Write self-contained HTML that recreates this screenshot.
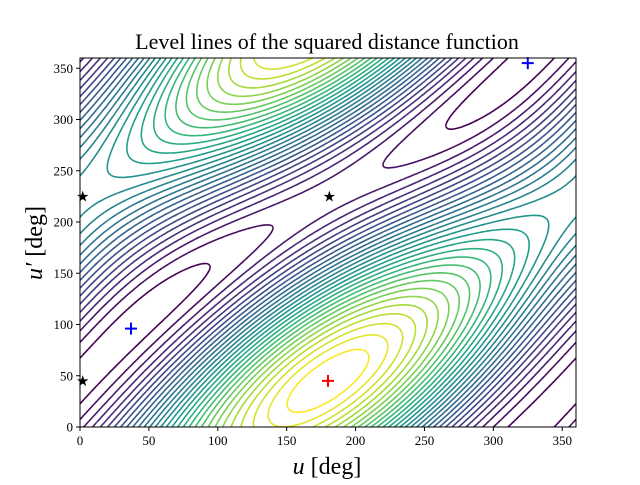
<!DOCTYPE html>
<html><head><meta charset="utf-8"><style>
body{margin:0;background:#fff}
svg text{font-family:"Liberation Serif",serif}
</style></head><body>
<svg id="chart" width="640" height="480" viewBox="0 0 640 480">
<text x="327" y="49" text-anchor="middle" font-size="22">Level lines of the squared distance function</text>
<g id="plot"></g>
<g id="axes"></g>
<text x="327" y="474" text-anchor="middle" font-size="24"><tspan font-style="italic">u</tspan> [deg]</text>
<text transform="translate(42,243) rotate(-90)" text-anchor="middle" font-size="24"><tspan font-style="italic">u′</tspan> [deg]</text>
</svg>
<script>
const xTicks=[0,50,100,150,200,250,300,350];
const yTicks=[0,50,100,150,200,250,300,350];
const maxPoint=[[180,45]];
const minPoints=[[37,96],[325,355]];
const saddlePoints=[[2,45],[2,225],[181,225]];
const coefA=1.0, coefB=0.4, coefC=0.31, phase=135;
const nLevels=30;

const L=80,R=576,T=58,B=427;
const sx=v=>L+(v/360)*(R-L), sy=v=>B-(v/360)*(B-T);
const NS='http://www.w3.org/2000/svg';
const rad=d=>d*Math.PI/180;
function f(u,v){return coefA*Math.cos(rad(u-v-phase))+coefB*Math.cos(rad(u-180))+coefC*Math.cos(rad(v-45));}
const vir=[[68,1,84],[72,40,120],[62,74,137],[49,104,142],[38,130,142],[31,158,137],[53,183,121],[109,205,89],[180,222,44],[253,231,37]];
function col(t){t=Math.max(0,Math.min(1,t))*(vir.length-1);const i=Math.min(Math.floor(t),vir.length-2),r=t-i;const c=vir[i].map((a,k)=>Math.round(a+(vir[i+1][k]-a)*r));return `rgb(${c})`;}
const N=240,step=360/N,G=[];
let mn=1e9,mx=-1e9;
for(let i=0;i<=N;i++){G.push([]);for(let j=0;j<=N;j++){const z=f(i*step,j*step);G[i].push(z);mn=Math.min(mn,z);mx=Math.max(mx,z);}}
const plot=document.getElementById('plot');
const clip=document.createElementNS(NS,'clipPath');clip.setAttribute('id','cp');
const cr=document.createElementNS(NS,'rect');cr.setAttribute('x',L);cr.setAttribute('y',T);cr.setAttribute('width',R-L);cr.setAttribute('height',B-T);clip.appendChild(cr);plot.appendChild(clip);
const lv=[];for(let k=0;k<nLevels;k++)lv.push(mn+(mx-mn)*(0.02+0.95*k/(nLevels-1)));
lv.forEach((c,k)=>{
 let d='';
 const P=(i,j)=>[sx(i*step),sy(j*step)];
 const interp=(i1,j1,i2,j2)=>{const a=G[i1][j1],b=G[i2][j2],t=(c-a)/(b-a);const p=P(i1,j1),q=P(i2,j2);return [p[0]+(q[0]-p[0])*t,p[1]+(q[1]-p[1])*t];};
 for(let i=0;i<N;i++)for(let j=0;j<N;j++){
  const pts=[];
  const e=[[i,j,i+1,j],[i+1,j,i+1,j+1],[i+1,j+1,i,j+1],[i,j+1,i,j]];
  for(const [a,b,cc,dd] of e){if((G[a][b]>c)!==(G[cc][dd]>c))pts.push(interp(a,b,cc,dd));}
  for(let m=0;m+1<pts.length;m+=2)d+=`M${pts[m][0].toFixed(1)} ${pts[m][1].toFixed(1)}L${pts[m+1][0].toFixed(1)} ${pts[m+1][1].toFixed(1)}`;
 }
 const p=document.createElementNS(NS,'path');
 
 
 p.setAttribute('d',d);p.setAttribute('fill','none');p.setAttribute('stroke',col(k/(nLevels-1)));p.setAttribute('stroke-width','1.6');p.setAttribute('clip-path','url(#cp)');
 plot.appendChild(p);
});
function cross(x,y,color,name){const p=document.createElementNS(NS,'path');
 
 
 p.setAttribute('d',`M${sx(x)-6} ${sy(y)}H${sx(x)+6}M${sx(x)} ${sy(y)-6}V${sy(y)+6}`);p.setAttribute('stroke',color);p.setAttribute('stroke-width','2');plot.appendChild(p);}
maxPoint.forEach(p=>cross(p[0],p[1],'red','max-marker'));
minPoints.forEach(p=>cross(p[0],p[1],'blue','min-marker'));
saddlePoints.forEach(p=>{const t=document.createElementNS(NS,'text');
 
 
 t.setAttribute('x',sx(p[0]));t.setAttribute('y',sy(p[1])+5);t.setAttribute('text-anchor','middle');t.setAttribute('font-size','15');t.setAttribute('font-family','DejaVu Sans');t.textContent='★';plot.appendChild(t);});
const ax=document.getElementById('axes');
const fr=document.createElementNS(NS,'rect');


fr.setAttribute('x',L);fr.setAttribute('y',T);fr.setAttribute('width',R-L);fr.setAttribute('height',B-T);fr.setAttribute('fill','none');fr.setAttribute('stroke','#000');fr.setAttribute('stroke-width','1');ax.appendChild(fr);
xTicks.forEach(v=>{const l=document.createElementNS(NS,'line');
 
 
 l.setAttribute('x1',sx(v));l.setAttribute('x2',sx(v));l.setAttribute('y1',B);l.setAttribute('y2',B+4);l.setAttribute('stroke','#000');ax.appendChild(l);
 const t=document.createElementNS(NS,'text');
 
 
 t.setAttribute('x',sx(v));t.setAttribute('y',B+18);t.setAttribute('text-anchor','middle');t.setAttribute('font-size','13');t.textContent=v;ax.appendChild(t);});
yTicks.forEach(v=>{const l=document.createElementNS(NS,'line');
 
 
 l.setAttribute('x1',L-4);l.setAttribute('x2',L);l.setAttribute('y1',sy(v));l.setAttribute('y2',sy(v));l.setAttribute('stroke','#000');ax.appendChild(l);
 const t=document.createElementNS(NS,'text');
 
 
 t.setAttribute('x',L-7);t.setAttribute('y',sy(v)+4.5);t.setAttribute('text-anchor','end');t.setAttribute('font-size','13');t.textContent=v;ax.appendChild(t);});
</script>
</body></html>
